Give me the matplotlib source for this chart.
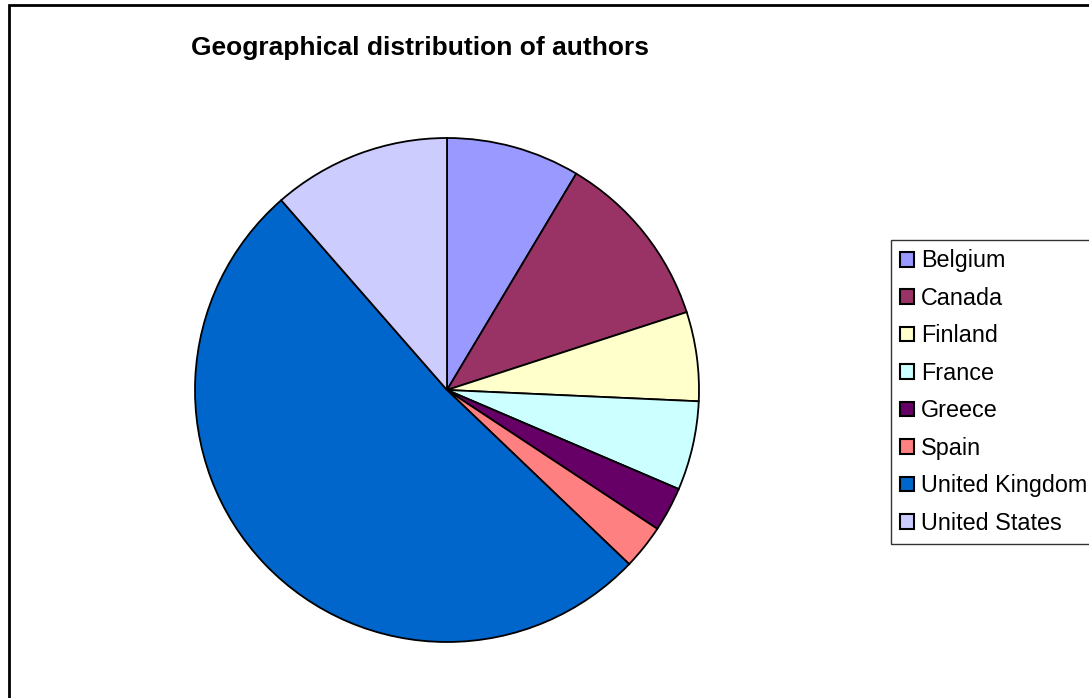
import matplotlib.pyplot as plt
from matplotlib.patches import Rectangle

plt.rcParams['font.family'] = ['Liberation Sans', 'DejaVu Sans']

# Dados do grafico
countries = ["Belgium", "Canada", "Finland", "France", "Greece", "Spain",
             "United Kingdom", "United States"]
authors = [3, 4, 2, 2, 1, 1, 18, 4]
colors = ["#9999FF", "#993366", "#FFFFCC", "#CCFFFF", "#660066", "#FF8080",
          "#0066CC", "#CCCCFF"]

W, H = 1089, 698
fig = plt.figure(figsize=(W / 100, H / 100), dpi=100)

# Moldura externa (cortada a direita e embaixo)
fig.patches.append(Rectangle((8.5 / W, -0.1), 2.0, 1.1 - 5.5 / H,
                             transform=fig.transFigure, fill=False,
                             edgecolor="black", linewidth=2))

# Pizza
cx, cy, r = 447, 390, 252
ax = fig.add_axes([(cx - r) / W, (H - cy - r) / H, 2 * r / W, 2 * r / H])
wedges, _ = ax.pie(authors, colors=colors, startangle=90, counterclock=False,
                   wedgeprops=dict(edgecolor="black", linewidth=1.3))
ax.set_xlim(-1.0, 1.0)
ax.set_ylim(-1.0, 1.0)
ax.set_aspect("equal")
ax.axis("off")

fig.text(420 / W, 1 - 48 / H, "Geographical distribution of authors",
         ha="center", va="center", fontsize=19, fontweight="bold")

leg = fig.legend(wedges, countries, loc="upper left",
                 bbox_to_anchor=(891 / W, 1 - 240 / H), borderaxespad=0,
                 fontsize=16.8, frameon=True, fancybox=False, shadow=False,
                 handlelength=0.6, handleheight=0.6, handletextpad=0.3,
                 labelspacing=0.62, borderpad=0.4)
leg.get_frame().set_edgecolor("black")
leg.get_frame().set_linewidth(1.0)
for h in leg.legend_handles:
    h.set_linewidth(1.5)
    h.set_edgecolor("black")

fig.savefig("out.png", dpi=100)
